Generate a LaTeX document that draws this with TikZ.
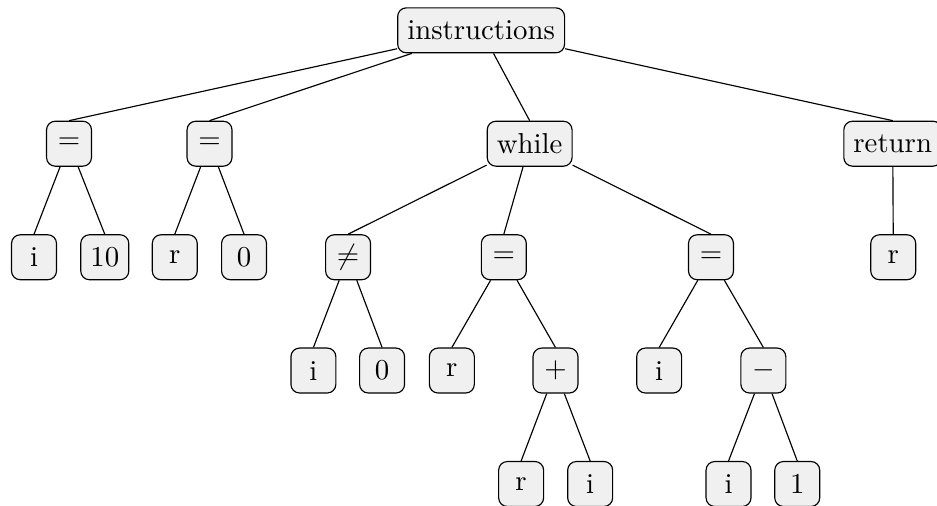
\documentclass[tikz,border=0pt]{standalone}
\usepackage{tikz}

\begin{document}
\begin{tikzpicture}[every node/.style={draw, rounded corners=3pt, fill=black!6, minimum size=15.6pt}]

		  \useasboundingbox (0,0) rectangle (11.43,6.17);

		  % Top
		  \node (T) at (5.869,5.80) {instructions};

		  % Nodes A
		  \node (A1) at (0.842,4.417) {$=$};
		  \node (A2) at (2.556,4.417) {$=$};
		  \node (A3) at (6.461,4.417) {while};
		  \node (A4) at (10.89,4.417) {return};

		  % Nodes B
		  \node (B1) at (0.415,3.032) {i};
		  \node (B2) at (1.278,3.032) {10};
		  \node (B3) at (2.132,3.032) {r};
		  \node (B4) at (2.977,3.032) {0};
		  \node (B5) at (4.246,3.032) {$\neq$};
		  \node (B6) at (6.146,3.032) {$=$};
		  \node (B7) at (8.673,3.032) {$=$};
		  \node (B8) at (10.896,3.032) {r};

		  % Nodes C
		  \node (C1) at (3.823,1.650) {i};
		  \node (C2) at (4.661,1.650) {0};
		  \node (C3) at (5.512,1.650) {r};
		  \node (C4) at (6.776,1.650) {$+$};
		  \node (C5) at (8.041,1.650) {i};
		  \node (C6) at (9.312,1.650) {$-$};

		  % Nodes D
		  \node (D1) at (6.357,0.266) {r};
		  \node (D2) at (7.199,0.266) {i};
		  \node (D3) at (8.887,0.266) {i};
		  \node (D4) at (9.725,0.266) {1};

		  % Draw edges from parent to child
		  \foreach \p/\c in {T/A1, T/A2, T/A3, T/A4,
		    A1/B1, A1/B2, A2/B3, A2/B4, A3/B5, A3/B6, A3/B7, A4/B8,
		    B5/C1, B5/C2, B6/C3, B6/C4, B7/C5, B7/C6,
		    C4/D1, C4/D2, C6/D3, C6/D4} {
		      \draw (\p) -- (\c.north);
		  }

		\end{tikzpicture}
\end{document}
